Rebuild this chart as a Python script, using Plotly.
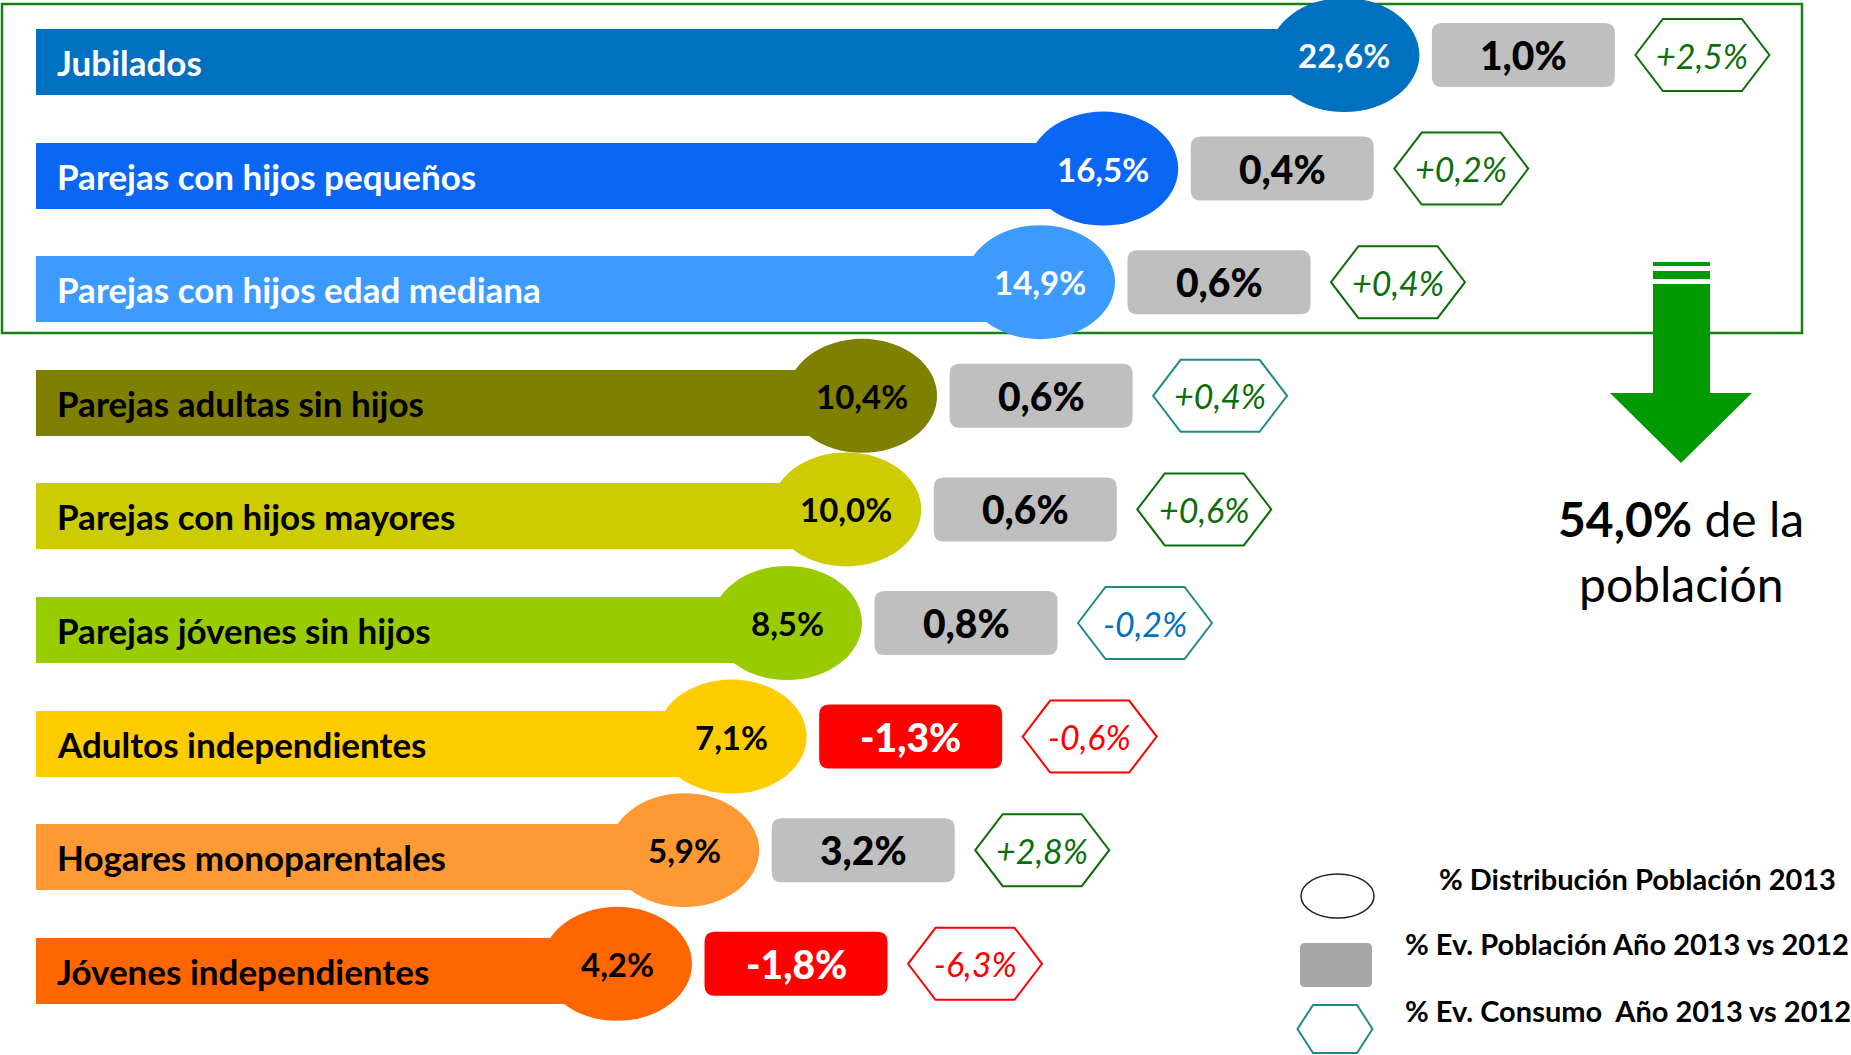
import plotly.graph_objects as go

# ---------------- data ----------------
categories = [
    "Jubilados",
    "Parejas con hijos pequeños",
    "Parejas con hijos edad mediana",
    "Parejas adultas sin hijos",
    "Parejas con hijos mayores",
    "Parejas jóvenes sin hijos",
    "Adultos independientes",
    "Hogares monoparentales",
    "Jóvenes independientes",
]
dist_poblacion_2013 = [22.6, 16.5, 14.9, 10.4, 10.0, 8.5, 7.1, 5.9, 4.2]
ev_poblacion_2013_vs_2012 = [1.0, 0.4, 0.6, 0.6, 0.6, 0.8, -1.3, 3.2, -1.8]
ev_consumo_2013_vs_2012 = [2.5, 0.2, 0.4, 0.4, 0.6, -0.2, -0.6, 2.8, -6.3]
legend_labels = [
    "% Distribución Población 2013",
    "% Ev. Población Año 2013 vs 2012",
    "% Ev. Consumo  Año 2013 vs 2012",
]
n_top = 3  # groups inside the green frame

# ---------------- styles ----------------
BAR_COLORS = ["#0070C0", "#0A66F5", "#3D9BFF", "#7F7F00", "#CCCC00",
              "#99CC00", "#FFCC00", "#FF9933", "#FF6600"]
LABEL_COLORS = ["white"] * 3 + ["black"] * 6
HEX_BORDER = ["#0B6E0B", "#0B6E0B", "#0B6E0B", "#208A8A", "#0B6E0B",
              "#208A8A", "#FF0000", "#0B6E0B", "#FF0000"]
GREEN_TXT = "#0B6E0B"
BLUE_TXT = "#0070C0"
RED = "#FF0000"
GRAY_BOX = "#BFBFBF"
FONT = "Lato"

W, H = 1851, 1055
PX_PER_UNIT = 39.53      # horizontal scale: pixels per percentage point
X0_PX = 451.0            # pixel position of value 0
ROW_PX = 113.6           # vertical distance between rows
ROW0_PX = 62.0           # pixel position of first row

x_range = [(0 - X0_PX) / PX_PER_UNIT, (W - X0_PX) / PX_PER_UNIT]
y_range = [(H - ROW0_PX) / ROW_PX, (0 - ROW0_PX) / ROW_PX]

BAR_BASE = (36 - X0_PX) / PX_PER_UNIT
LABEL_X = (55 - X0_PX) / PX_PER_UNIT
BAR_WIDTH = 66 / ROW_PX
OFF = 7 / ROW_PX                     # circles/boxes slightly above bar centre
C_RX, C_RY = 75 / PX_PER_UNIT, 57 / ROW_PX
BOX_DX = 179 / PX_PER_UNIT
BOX_HW, BOX_HH = 91.5 / PX_PER_UNIT, 32 / ROW_PX
BOX_RX, BOX_RY = 10 / PX_PER_UNIT, 10 / ROW_PX
HEX_DX = 358 / PX_PER_UNIT
HEX_HW, HEX_IW, HEX_HH = 67 / PX_PER_UNIT, 39.5 / PX_PER_UNIT, 36 / ROW_PX


def px(x):
    return x / W


def py(y):
    return 1 - y / H


def fmt(v, sign=False):
    s = f"{v:.1f}".replace(".", ",") + "%"
    if sign and v > 0:
        s = "+" + s
    return s


def rrect(cx, cy, hw, hh, rx, ry):
    x0, x1, y0, y1 = cx - hw, cx + hw, cy - hh, cy + hh
    return (f"M {x0+rx},{y0} L {x1-rx},{y0} Q {x1},{y0} {x1},{y0+ry} "
            f"L {x1},{y1-ry} Q {x1},{y1} {x1-rx},{y1} L {x0+rx},{y1} "
            f"Q {x0},{y1} {x0},{y1-ry} L {x0},{y0+ry} Q {x0},{y0} {x0+rx},{y0} Z")


def hexa(cx, cy, hw, iw, hh):
    return (f"M {cx-hw},{cy} L {cx-iw},{cy-hh} L {cx+iw},{cy-hh} L {cx+hw},{cy} "
            f"L {cx+iw},{cy+hh} L {cx-iw},{cy+hh} Z")


rows = list(range(len(categories)))

fig = go.Figure()
fig.add_trace(go.Bar(
    orientation="h",
    y=rows,
    x=[v - BAR_BASE for v in dist_poblacion_2013],
    base=BAR_BASE,
    width=BAR_WIDTH,
    marker=dict(color=BAR_COLORS, line=dict(width=0)),
    hoverinfo="skip",
    showlegend=False,
))

shapes = []
annotations = []

# green frame around the top groups
shapes.append(dict(type="rect", xref="paper", yref="paper",
                   x0=px(2), x1=px(1802), y0=py(4), y1=py(333),
                   line=dict(color="#168016", width=2.5), fillcolor="rgba(0,0,0,0)",
                   layer="below"))

for r, (cat, v, evp, evc) in enumerate(zip(categories, dist_poblacion_2013,
                                          ev_poblacion_2013_vs_2012,
                                          ev_consumo_2013_vs_2012)):
    cy = r - OFF
    # circle with distribution value
    shapes.append(dict(type="circle", xref="x", yref="y",
                       x0=v - C_RX, x1=v + C_RX, y0=cy - C_RY, y1=cy + C_RY,
                       fillcolor=BAR_COLORS[r], line=dict(width=0), layer="above"))
    annotations.append(dict(x=v, y=cy, xref="x", yref="y", text=fmt(v),
                            showarrow=False, xanchor="center",
                            font=dict(family=FONT, size=33, weight=700,
                                      color=LABEL_COLORS[r])))
    # category label
    annotations.append(dict(x=LABEL_X, y=r, xref="x", yref="y", text=cat,
                            xanchor="left", showarrow=False,
                            font=dict(family=FONT, size=35, weight=700,
                                      color=LABEL_COLORS[r])))
    # population evolution box
    bx = v + BOX_DX
    shapes.append(dict(type="path", xref="x", yref="y",
                       path=rrect(bx, cy, BOX_HW, BOX_HH, BOX_RX, BOX_RY),
                       fillcolor=RED if evp < 0 else GRAY_BOX,
                       line=dict(width=0), layer="above"))
    annotations.append(dict(x=bx, y=cy, xref="x", yref="y", text=fmt(evp),
                            showarrow=False, xanchor="center",
                            font=dict(family=FONT, size=39, weight=900,
                                      color="white" if evp < 0 else "black")))
    # consumption evolution hexagon
    hx = v + HEX_DX
    if evc > 0:
        tcol = GREEN_TXT
    elif evc > -0.5:
        tcol = BLUE_TXT
    else:
        tcol = RED
    shapes.append(dict(type="path", xref="x", yref="y",
                       path=hexa(hx, cy, HEX_HW, HEX_IW, HEX_HH),
                       fillcolor="white", line=dict(color=HEX_BORDER[r], width=2),
                       layer="above"))
    annotations.append(dict(x=hx, y=cy, xref="x", yref="y",
                            text=fmt(evc, sign=True),
                            showarrow=False, xanchor="center",
                            font=dict(family=FONT, size=34, style="italic",
                                      color=tcol)))

# green arrow
AG = "#009900"
shapes.append(dict(type="rect", xref="paper", yref="paper",
                   x0=px(1653), x1=px(1710), y0=py(262), y1=py(266),
                   fillcolor=AG, line=dict(width=0), layer="above"))
shapes.append(dict(type="rect", xref="paper", yref="paper",
                   x0=px(1653), x1=px(1710), y0=py(271), y1=py(279),
                   fillcolor=AG, line=dict(width=0), layer="above"))
arrow_path = (f"M {px(1653)},{py(284)} L {px(1710)},{py(284)} L {px(1710)},{py(393)} "
              f"L {px(1752)},{py(393)} L {px(1681)},{py(463)} L {px(1610)},{py(393)} "
              f"L {px(1653)},{py(393)} Z")
shapes.append(dict(type="path", xref="paper", yref="paper", path=arrow_path,
                   fillcolor=AG, line=dict(width=0), layer="above"))

total_top = sum(dist_poblacion_2013[:n_top])
annotations.append(dict(x=px(1681), y=py(518), xref="paper", yref="paper",
                        text=f"<b>{fmt(total_top)}</b> de la", showarrow=False,
                        xanchor="center",
                        font=dict(family=FONT, size=48, color="black")))
annotations.append(dict(x=px(1681), y=py(583), xref="paper", yref="paper",
                        text="población", showarrow=False, xanchor="center",
                        font=dict(family=FONT, size=48, color="black")))

# legend
shapes.append(dict(type="circle", xref="paper", yref="paper",
                   x0=px(1301), x1=px(1374), y0=py(918), y1=py(874),
                   fillcolor="white", line=dict(color="#222222", width=1.5), layer="above"))
lx0, lx1, ly0, ly1 = 1300, 1372, 943, 987
shapes.append(dict(type="path", xref="paper", yref="paper",
                   path=rrect(px((lx0 + lx1) / 2), py((ly0 + ly1) / 2), px(36), 22 / H,
                              px(5), 5 / H),
                   fillcolor="#A6A6A6", line=dict(width=0), layer="above"))
shapes.append(dict(type="path", xref="paper", yref="paper",
                   path=hexa(px(1335), py(1029), px(37.5), px(22), 24 / H),
                   fillcolor="white", line=dict(color="#208A8A", width=2), layer="above"))
for lbl, lx, ly in zip(legend_labels, [1437, 1403, 1403], [898, 963, 1030]):
    annotations.append(dict(x=px(lx), y=py(ly), xref="paper", yref="paper",
                            text=lbl, xanchor="left", showarrow=False,
                            font=dict(family=FONT, size=29, weight=700, color="black")))

fig.update_layout(
    width=W, height=H,
    margin=dict(l=0, r=0, t=0, b=0),
    paper_bgcolor="white", plot_bgcolor="white",
    xaxis=dict(range=x_range, visible=False, fixedrange=True),
    yaxis=dict(range=y_range, visible=False, fixedrange=True),
    shapes=shapes,
    annotations=annotations,
    bargap=0,
    showlegend=False,
)

fig.write_html("out.html", config={"displayModeBar": False},
               post_script="document.body.style.margin='0';")
